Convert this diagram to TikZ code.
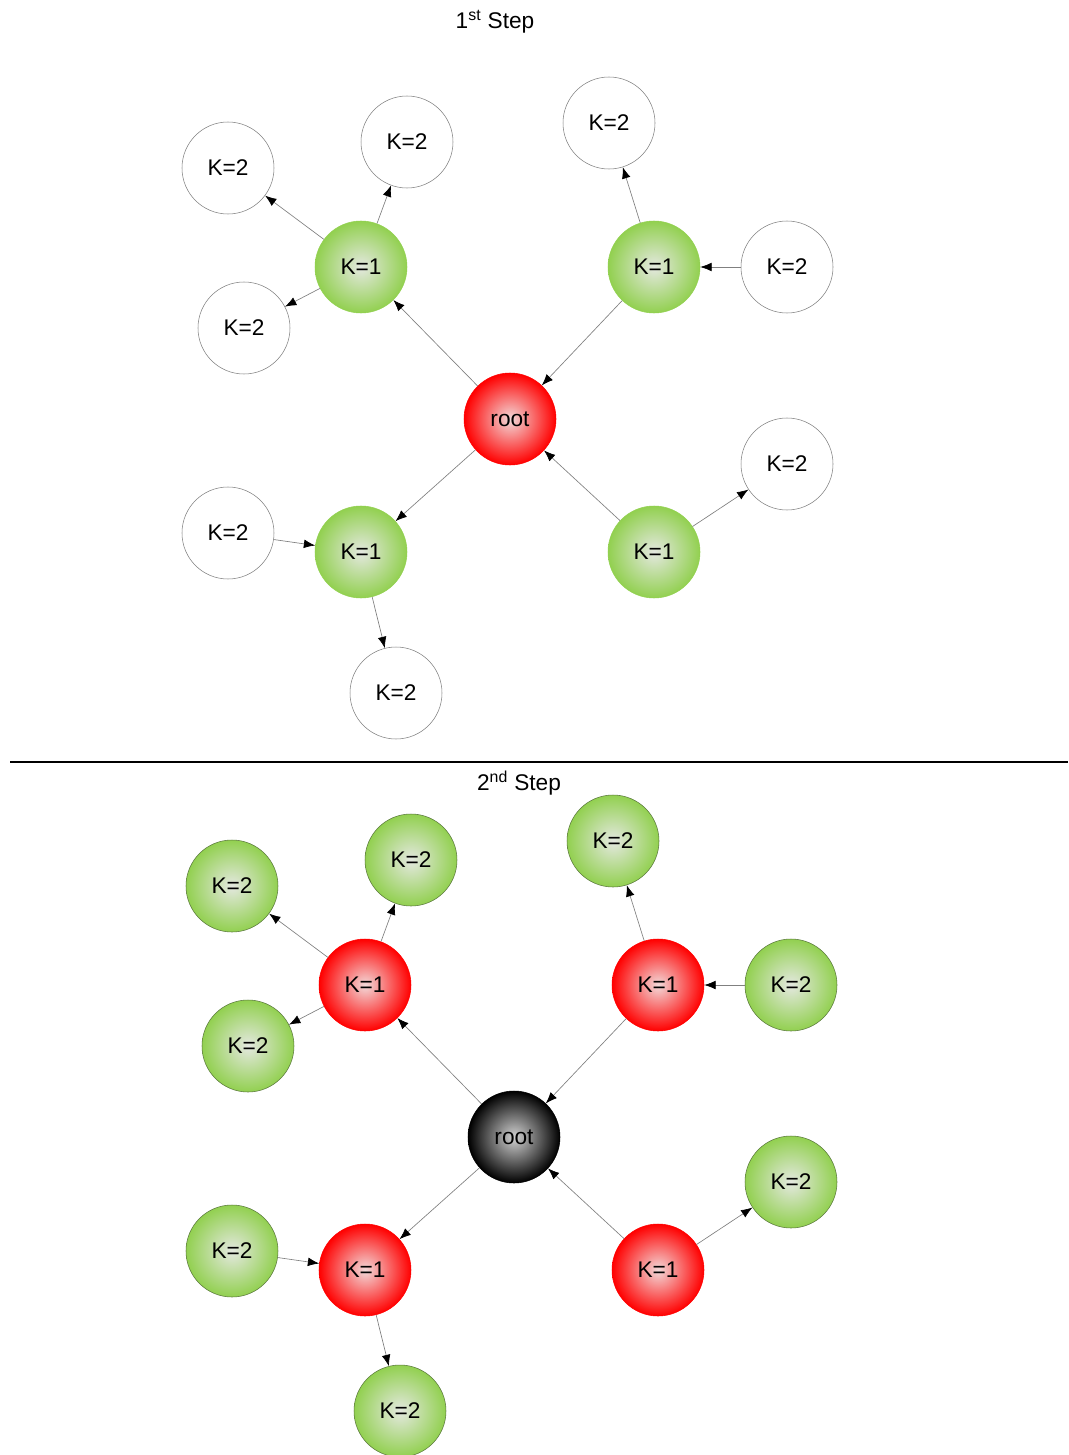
\documentclass[tikz,border=0pt]{standalone}
\usepackage{fontspec}
\setmainfont{Liberation Sans}
\usetikzlibrary{arrows.meta}

\definecolor{ballgreen}{RGB}{146,208,80}
\definecolor{ballcore}{RGB}{228,232,224}
\definecolor{redcore}{RGB}{242,218,218}
\definecolor{blackcore}{RGB}{210,210,210}
\definecolor{greenrim}{RGB}{90,120,60}

\tikzset{
  ball/.style={circle, minimum size=69pt, inner sep=0pt,
    font=\fontsize{17}{20}\selectfont},
  plainball/.style={ball, draw=gray, fill=white},
  greenball/.style={ball, draw=ballgreen, inner color=ballcore, outer color=ballgreen},
  greenedge/.style={ball, draw=greenrim, line width=0.4pt, inner color=ballcore, outer color=ballgreen},
  redball/.style={ball, draw=red, inner color=redcore, outer color=red},
  blackball/.style={ball, draw=black, inner color=blackcore, outer color=black},
  link/.style={draw=gray, line width=0.5pt, -{Latex[black,length=8.5pt,width=6.5pt]}},
  steptitle/.style={font=\fontsize{17}{20}\selectfont}
}

\begin{document}
\begin{tikzpicture}[x=0.75pt, y=-0.75pt]
\useasboundingbox (0,0) rectangle (1068,1455);

% both steps share the same layout, only the colours move on
\foreach \p/\dx/\dy/\tx/\ty/\num/\ord/\rt/\ka/\kb in
  {a/0/0/495/22/1/st/redball/greenball/plainball,
   b/4/718/515/65/2/nd/blackball/redball/greenedge} {
\begin{scope}[shift={(\dx,\dy)}]
  \node[steptitle] (\p-title) at (\tx,\ty) {\num\textsuperscript{\ord} Step};

  \node[\rt] (\p-root) at (510,419) {root};

  \node[\ka] (\p-ul) at (361,267) {K=1};
  \node[\ka] (\p-ur) at (654,267) {K=1};
  \node[\ka] (\p-ll) at (361,552) {K=1};
  \node[\ka] (\p-lr) at (654,552) {K=1};

  \node[\kb] (\p-ula) at (228,168) {K=2};
  \node[\kb] (\p-ulb) at (407,142) {K=2};
  \node[\kb] (\p-ulc) at (244,328) {K=2};
  \node[\kb] (\p-ura) at (609,123) {K=2};
  \node[\kb] (\p-urb) at (787,267) {K=2};
  \node[\kb] (\p-lra) at (787,464) {K=2};
  \node[\kb] (\p-lla) at (228,533) {K=2};
  \node[\kb] (\p-llb) at (396,693) {K=2};

  \draw[link] (\p-root) -- (\p-ul);
  \draw[link] (\p-ur) -- (\p-root);
  \draw[link] (\p-root) -- (\p-ll);
  \draw[link] (\p-lr) -- (\p-root);
  \draw[link] (\p-ul) -- (\p-ula);
  \draw[link] (\p-ul) -- (\p-ulb);
  \draw[link] (\p-ul) -- (\p-ulc);
  \draw[link] (\p-ur) -- (\p-ura);
  \draw[link] (\p-urb) -- (\p-ur);
  \draw[link] (\p-lr) -- (\p-lra);
  \draw[link] (\p-lla) -- (\p-ll);
  \draw[link] (\p-ll) -- (\p-llb);
\end{scope}
}

\draw[line width=1.5pt] (10,762) -- (1068,762);
\end{tikzpicture}
\end{document}
